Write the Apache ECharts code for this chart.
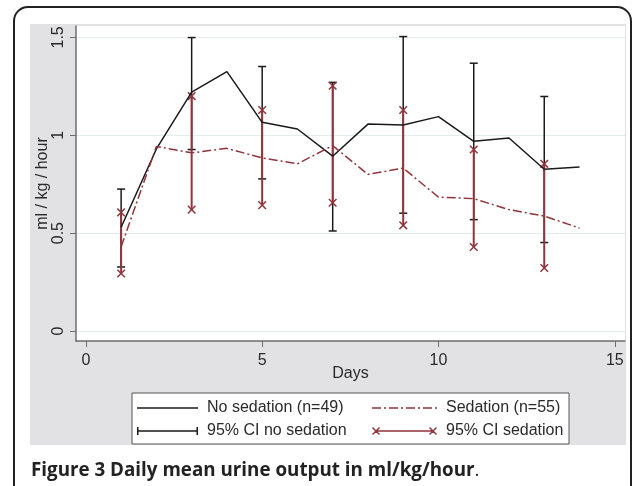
<!DOCTYPE html>
<html>
<head>
<meta charset="utf-8">
<script src="https://cdn.jsdelivr.net/npm/echarts@6/dist/echarts.min.js"></script>
<style>
  html, body { margin: 0; padding: 0; background: #fff; }
  #chart { width: 633px; height: 486px; }
</style>
</head>
<body>
<div id="chart"></div>
<script>
// daily means
var days = [1, 2, 3, 4, 5, 6, 7, 8, 9, 10, 11, 12, 13, 14];
var noSedation = [0.53, 0.93, 1.22, 1.325, 1.066, 1.032, 0.893, 1.057, 1.052, 1.095, 0.969, 0.986, 0.826, 0.838];
var sedation = [0.43, 0.943, 0.91, 0.933, 0.884, 0.854, 0.947, 0.80, 0.832, 0.684, 0.676, 0.62, 0.587, 0.526];

// 95% CI, every other day
var ciDays = [1, 3, 5, 7, 9, 11, 13];
var ciNoSedLow = [0.327, 0.927, 0.777, 0.511, 0.602, 0.569, 0.452];
var ciNoSedHigh = [0.725, 1.499, 1.351, 1.27, 1.504, 1.368, 1.198];
var ciSedLow = [0.294, 0.62, 0.643, 0.655, 0.54, 0.429, 0.322];
var ciSedHigh = [0.606, 1.20, 1.129, 1.253, 1.129, 0.927, 0.854];

var xTicks = [0, 5, 10, 15];
var yTicks = [0, 0.5, 1, 1.5];

var BLACK = '#1a1a1a';
var RED = '#90353b';
var TEXT = '#2a2a2a';
var FONT = '"Liberation Sans", Arial, sans-serif';

function pairs(xs, ys) {
  return xs.map(function (x, i) { return [x, ys[i]]; });
}
function triples(xs, lo, hi) {
  return xs.map(function (x, i) { return [x, lo[i], hi[i]]; });
}

// rcap: vertical line with short horizontal caps
function renderCap(params, api) {
  var x = api.value(0);
  var a = api.coord([x, api.value(1)]);
  var b = api.coord([x, api.value(2)]);
  var w = 4;
  var st = { stroke: BLACK, lineWidth: 1.5 };
  return {
    type: 'group',
    children: [
      { type: 'line', shape: { x1: a[0], y1: a[1], x2: b[0], y2: b[1] }, style: st },
      { type: 'line', shape: { x1: a[0] - w, y1: a[1], x2: a[0] + w, y2: a[1] }, style: st },
      { type: 'line', shape: { x1: b[0] - w, y1: b[1], x2: b[0] + w, y2: b[1] }, style: st }
    ]
  };
}

// rcap with x markers at both ends
function renderCross(params, api) {
  var x = api.value(0);
  var a = api.coord([x, api.value(1)]);
  var b = api.coord([x, api.value(2)]);
  var s = 3.8;
  var st = { stroke: RED, lineWidth: 1.5 };
  function cross(p) {
    return [
      { type: 'line', shape: { x1: p[0] - s, y1: p[1] - s, x2: p[0] + s, y2: p[1] + s }, style: st },
      { type: 'line', shape: { x1: p[0] - s, y1: p[1] + s, x2: p[0] + s, y2: p[1] - s }, style: st }
    ];
  }
  return {
    type: 'group',
    children: [
      { type: 'line', shape: { x1: a[0], y1: a[1], x2: b[0], y2: b[1] }, style: { stroke: RED, lineWidth: 2 } }
    ].concat(cross(a), cross(b))
  };
}

// legend keys
var solidIcon = 'path://M0,3.3H61V4.7H0Z';
var dashDotIcon = 'path://M0,3.3H9V4.7H0Z M12,3.3H14V4.7H12Z M17,3.3H26V4.7H17Z M29,3.3H31V4.7H29Z ' +
  'M34,3.3H43V4.7H34Z M46,3.3H48V4.7H46Z M51,3.3H60V4.7H51Z M63,3.3H65V4.7H63Z';
var capIcon = 'path://M0,0H1.5V8H0Z M59.5,0H61V8H59.5Z M0,3.3H61V4.7H0Z';
var crossIcon = 'path://M3,3.2H62V4.8H3Z M0,1L1,0L8,7L7,8Z M7,0L8,1L1,8L0,7Z M57,1L58,0L65,7L64,8Z M64,0L65,1L58,8L57,7Z';

var legendText = { fontFamily: FONT, fontSize: 16, color: TEXT, padding: [0, 0, 0, 4] };

var chart = echarts.init(document.getElementById('chart'));
chart.setOption({
  animation: false,
  backgroundColor: '#fff',
  graphic: [
    { type: 'rect', z: -100, shape: { x: 14, y: 7, width: 617, height: 520, r: 14 },
      style: { fill: '#fff', stroke: '#222', lineWidth: 2 } },
    { type: 'rect', z: -99, shape: { x: 30, y: 24, width: 596, height: 421 },
      style: { fill: '#e2e2e4' } },
    { type: 'rect', z: -98, shape: { x: 132, y: 393, width: 437, height: 51 },
      style: { fill: '#fff', stroke: '#555', lineWidth: 1 } },
    { type: 'text', x: 31, y: 471,
      style: {
        text: '{b|Figure 3 Daily mean urine output in ml/kg/hour}{n|.}',
        verticalAlign: 'middle',
        rich: {
          b: { fontFamily: '"Open Sans", sans-serif', fontWeight: 'bold', fontSize: 18.8, fill: '#222' },
          n: { fontFamily: '"Open Sans", sans-serif', fontSize: 18.8, fill: '#222' }
        }
      } }
  ],
  grid: {
    left: 76, right: 8, top: 26, bottom: 145,
    show: true, backgroundColor: '#fff', borderWidth: 0
  },
  legend: [
    {
      left: 137, top: 400, orient: 'vertical', padding: 0,
      itemWidth: 61, itemHeight: 8, itemGap: 7,
      textStyle: legendText,
      data: [
        { name: 'No sedation (n=49)', icon: solidIcon, itemStyle: { color: BLACK } },
        { name: '95% CI no sedation', icon: capIcon, itemStyle: { color: BLACK } }
      ]
    },
    {
      left: 372, top: 400, orient: 'vertical', padding: 0,
      itemWidth: 65, itemHeight: 8, itemGap: 7,
      textStyle: legendText,
      data: [
        { name: 'Sedation (n=55)', icon: dashDotIcon, itemStyle: { color: RED } },
        { name: '95% CI sedation', icon: crossIcon, itemStyle: { color: RED } }
      ]
    }
  ],
  xAxis: {
    type: 'value', min: -0.28, max: 15.29,
    name: 'Days', nameLocation: 'middle', nameGap: 25, nameMoveOverlap: false,
    nameTextStyle: { fontFamily: FONT, fontSize: 16, color: TEXT },
    axisLine: { onZero: false, lineStyle: { color: '#6e6e6e', width: 1.5 } },
    axisTick: { customValues: xTicks, length: 6, lineStyle: { color: '#6e6e6e' } },
    axisLabel: { customValues: xTicks, margin: 12, fontFamily: FONT, fontSize: 16, color: TEXT },
    splitLine: { show: false }
  },
  yAxis: {
    type: 'value', min: -0.051, max: 1.558,
    name: 'ml / kg / hour', nameLocation: 'middle', nameGap: 25, nameRotate: 90, nameMoveOverlap: false,
    nameTextStyle: { fontFamily: FONT, fontSize: 16, color: TEXT },
    axisLine: { show: true, onZero: false, lineStyle: { color: '#6e6e6e', width: 1.5 } },
    axisTick: { show: true, customValues: yTicks, length: 6, lineStyle: { color: '#6e6e6e' } },
    axisLabel: { customValues: yTicks, rotate: 90, margin: 9, fontFamily: FONT, fontSize: 16, color: TEXT },
    splitLine: { show: true, lineStyle: { color: '#e4ecee', width: 1.2 } }
  },
  series: [
    {
      name: 'No sedation (n=49)', type: 'line', symbol: 'none',
      color: BLACK, lineStyle: { color: BLACK, width: 1.5 },
      data: pairs(days, noSedation)
    },
    {
      name: 'Sedation (n=55)', type: 'line', symbol: 'none',
      color: RED, lineStyle: { color: RED, width: 1.5, type: [9, 3, 2, 3] },
      data: pairs(days, sedation)
    },
    {
      name: '95% CI no sedation', type: 'custom', color: BLACK,
      renderItem: renderCap, encode: { x: 0, y: [1, 2] },
      data: triples(ciDays, ciNoSedLow, ciNoSedHigh)
    },
    {
      name: '95% CI sedation', type: 'custom', color: RED,
      renderItem: renderCross, encode: { x: 0, y: [1, 2] },
      data: triples(ciDays, ciSedLow, ciSedHigh)
    }
  ]
});
</script>
</body>
</html>
